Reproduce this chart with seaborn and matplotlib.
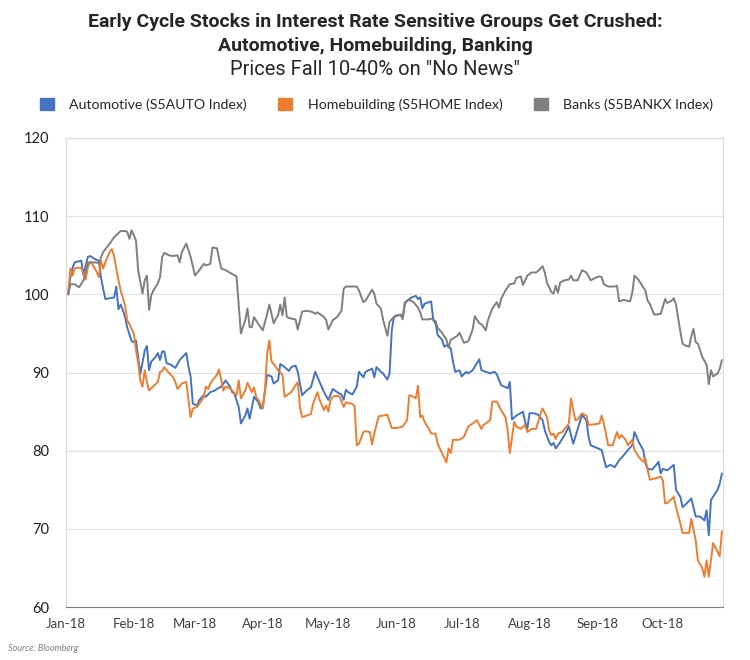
import pandas as pd
import seaborn as sns
import matplotlib.pyplot as plt
import matplotlib.dates as mdates
from matplotlib.patches import Patch

# days counted from 1 Jan 2018, values indexed to 100 at start
auto_day = [1, 2, 3, 4, 7, 8, 10, 11, 14, 15, 16, 17, 18, 22, 23, 24, 25, 26, 27, 28,
            30, 31, 32, 34, 36, 37, 38, 39, 41, 42, 43, 44, 45, 46, 48, 50, 52, 55, 56, 57,
            58, 60, 61, 63, 64, 66, 68, 69, 71, 73, 74, 75, 76, 77, 79, 80, 82, 83, 84, 86,
            88, 89, 90, 92, 94, 95, 96, 97, 98, 100, 102, 103, 105, 106, 108, 110, 112, 114, 116, 118,
            120, 122, 124, 126, 127, 128, 129, 131, 133, 134, 136, 137, 140, 141, 142, 144, 145, 147, 148, 149,
            150, 151, 153, 154, 155, 156, 158, 160, 161, 162, 163, 164, 167, 168, 169, 170, 172, 173, 174, 176,
            177, 178, 180, 181, 183, 184, 186, 189, 190, 194, 196, 197, 199, 202, 203, 204, 206, 209, 210, 211,
            212, 214, 216, 218, 219, 221, 222, 223, 224, 226, 228, 230, 232, 233, 236, 238, 239, 240, 245, 247,
            249, 251, 253, 255, 257, 259, 260, 262, 264, 265, 266, 268, 270, 271, 272, 273, 275, 278, 279, 281,
            282, 284, 286, 288, 290, 292, 293, 294, 295, 298, 299, 300]
auto_val = [100.0, 102.2, 103.4, 104.1, 104.3, 102.5, 104.8, 104.9, 104.4, 104.3, 102.2, 100.7, 99.4, 99.6, 101.0, 98.1, 98.7, 98.0, 97.1, 95.8,
            94.0, 93.9, 94.1, 89.8, 92.8, 93.4, 90.3, 91.4, 92.0, 92.5, 91.6, 92.7, 92.7, 91.2, 91.0, 90.6, 91.6, 92.5, 90.8, 89.5,
            86.0, 85.8, 86.5, 87.1, 86.9, 87.5, 87.7, 87.9, 88.2, 89.0, 88.6, 88.2, 87.5, 87.3, 85.6, 83.5, 84.5, 85.4, 84.1, 86.9,
            86.2, 85.4, 85.6, 89.7, 89.5, 88.6, 88.8, 89.0, 91.1, 90.7, 90.2, 90.7, 90.9, 90.1, 87.1, 87.7, 88.1, 90.1, 88.8, 87.5,
            86.5, 87.9, 87.5, 87.2, 86.5, 87.8, 87.5, 87.2, 88.2, 90.1, 89.4, 90.1, 90.5, 89.4, 90.7, 90.1, 89.9, 89.1, 89.9, 95.4,
            97.1, 97.3, 97.4, 97.1, 98.8, 99.2, 99.6, 99.8, 99.4, 99.6, 98.2, 98.8, 99.1, 96.7, 96.3, 94.8, 94.2, 93.3, 93.5, 93.1,
            91.4, 90.1, 90.3, 89.5, 90.1, 89.9, 90.3, 91.7, 90.3, 89.9, 90.1, 89.8, 88.4, 88.0, 88.8, 84.0, 84.5, 85.0, 83.7, 82.8,
            84.8, 84.8, 84.6, 83.9, 82.6, 81.1, 80.7, 81.0, 80.3, 81.1, 82.0, 83.1, 80.9, 81.8, 84.6, 83.9, 81.8, 80.7, 80.1, 77.9,
            78.2, 77.9, 78.8, 79.4, 80.1, 80.7, 82.4, 81.1, 80.1, 78.4, 77.7, 77.6, 78.2, 78.6, 77.1, 77.7, 77.5, 78.2, 75.0, 74.1,
            72.8, 73.3, 73.9, 71.6, 71.6, 71.1, 72.4, 69.2, 73.7, 75.0, 75.8, 77.1]

home_day = [1, 2, 3, 4, 5, 7, 9, 10, 11, 12, 14, 15, 16, 17, 18, 19, 20, 21, 22, 23,
            24, 25, 27, 28, 29, 31, 32, 33, 34, 35, 36, 37, 38, 42, 43, 44, 45, 46, 47, 49,
            50, 51, 53, 55, 56, 57, 58, 60, 61, 63, 64, 65, 66, 67, 69, 70, 72, 73, 75, 76,
            78, 79, 80, 82, 83, 85, 86, 87, 89, 90, 91, 92, 93, 94, 95, 96, 97, 99, 100, 102,
            103, 106, 107, 108, 112, 113, 115, 116, 118, 119, 120, 121, 122, 123, 125, 127, 128, 131, 132, 133,
            134, 136, 137, 139, 140, 141, 143, 145, 147, 149, 151, 154, 156, 157, 159, 160, 161, 162, 163, 164,
            166, 167, 169, 170, 172, 174, 175, 176, 177, 180, 182, 184, 188, 190, 191, 194, 195, 197, 199, 201,
            202, 203, 205, 206, 208, 210, 211, 213, 215, 217, 218, 220, 221, 222, 223, 224, 225, 227, 229, 230,
            231, 232, 233, 234, 236, 238, 239, 242, 244, 245, 246, 248, 250, 252, 253, 254, 256, 257, 259, 260,
            262, 264, 265, 267, 270, 272, 273, 274, 275, 278, 279, 281, 282, 285, 286, 288, 289, 291, 292, 293,
            294, 296, 298, 299, 300]
home_val = [100.0, 103.3, 102.4, 103.3, 103.4, 103.4, 101.9, 103.5, 104.1, 103.9, 102.9, 102.2, 104.3, 103.3, 104.1, 104.8, 105.4, 105.8, 104.9, 103.3,
            101.8, 100.5, 98.6, 96.7, 96.2, 95.0, 92.9, 91.2, 89.0, 88.2, 90.3, 88.8, 87.7, 88.8, 90.1, 90.2, 90.7, 90.3, 90.0, 89.4,
            88.8, 87.9, 88.6, 88.8, 86.5, 84.3, 85.4, 85.6, 86.0, 86.9, 88.2, 87.9, 88.6, 89.0, 89.7, 90.4, 87.7, 88.2, 88.0, 87.7,
            87.1, 89.0, 86.7, 87.7, 88.7, 87.5, 88.1, 86.9, 86.0, 85.4, 87.7, 92.4, 94.1, 91.4, 91.1, 90.7, 90.3, 89.7, 86.9, 87.3,
            87.5, 88.8, 85.6, 84.3, 84.7, 86.0, 87.5, 86.5, 85.2, 85.8, 85.0, 86.5, 86.9, 87.0, 87.0, 85.6, 86.2, 86.0, 85.7, 80.7,
            80.9, 82.4, 82.5, 82.4, 80.8, 82.2, 84.4, 84.5, 84.6, 82.9, 82.9, 83.1, 83.9, 87.1, 86.9, 86.7, 88.3, 84.3, 84.5, 83.7,
            82.8, 82.2, 82.2, 80.9, 79.7, 78.5, 80.3, 79.7, 81.4, 81.4, 81.8, 83.1, 83.9, 82.8, 83.3, 83.9, 86.3, 86.3, 85.2, 84.3,
            82.6, 79.7, 83.7, 83.1, 82.8, 83.3, 82.4, 82.8, 82.8, 84.7, 85.4, 84.3, 82.6, 82.0, 82.2, 81.5, 82.2, 82.4, 83.1, 83.5,
            86.7, 85.2, 83.9, 84.0, 84.8, 84.5, 83.3, 83.4, 83.5, 84.5, 83.5, 80.7, 80.7, 82.4, 81.6, 82.0, 81.4, 80.7, 81.4, 80.1,
            79.2, 78.6, 79.0, 76.3, 76.5, 76.7, 76.2, 73.3, 73.3, 74.1, 72.8, 70.7, 69.5, 69.5, 71.3, 68.6, 66.0, 65.0, 63.9, 66.0,
            63.9, 68.2, 67.1, 66.5, 69.7]

bank_day = [1, 2, 4, 6, 8, 10, 13, 15, 17, 20, 22, 25, 27, 28, 29, 30, 32, 33, 35, 36,
            37, 38, 39, 40, 42, 43, 44, 45, 47, 49, 51, 52, 53, 55, 57, 59, 61, 63, 64, 66,
            67, 69, 71, 73, 76, 78, 80, 82, 83, 84, 85, 86, 88, 90, 92, 93, 95, 96, 97, 98,
            99, 100, 101, 103, 105, 106, 108, 110, 112, 113, 114, 115, 118, 119, 120, 122, 124, 126, 127, 128,
            133, 134, 136, 137, 140, 141, 142, 144, 145, 147, 148, 150, 152, 153, 154, 155, 157, 159, 161, 162,
            163, 166, 167, 169, 170, 172, 174, 175, 176, 179, 180, 182, 184, 186, 187, 189, 190, 192, 193, 195,
            196, 197, 198, 199, 201, 203, 205, 206, 208, 209, 211, 213, 215, 216, 218, 219, 220, 222, 223, 224,
            225, 226, 228, 230, 231, 232, 234, 236, 238, 240, 242, 244, 245, 246, 248, 251, 252, 253, 255, 258,
            259, 260, 262, 264, 265, 266, 267, 269, 272, 273, 274, 275, 277, 278, 279, 281, 282, 283, 285, 286,
            287, 288, 289, 290, 291, 293, 294, 295, 296, 298, 299, 300]
bank_val = [100.0, 101.3, 101.3, 100.9, 101.8, 104.1, 104.1, 104.0, 105.4, 106.5, 107.3, 108.1, 108.1, 108.0, 107.1, 108.2, 106.9, 103.1, 100.1, 101.8,
            102.4, 98.0, 99.9, 100.5, 101.4, 102.2, 104.8, 105.3, 105.0, 104.9, 105.0, 104.1, 105.4, 106.5, 104.8, 102.4, 103.1, 103.9, 103.7, 103.9,
            106.0, 105.9, 103.3, 103.1, 102.6, 102.3, 95.0, 96.7, 98.2, 95.8, 95.8, 97.1, 96.2, 95.4, 97.5, 98.7, 96.3, 96.9, 97.3, 98.7,
            97.3, 99.6, 97.1, 96.9, 96.8, 95.5, 97.8, 97.9, 97.8, 97.7, 97.5, 97.7, 97.1, 96.7, 95.5, 96.7, 97.1, 97.9, 100.7, 101.0,
            101.0, 100.5, 99.0, 99.2, 100.6, 100.1, 98.8, 98.2, 96.8, 94.7, 96.5, 97.1, 97.3, 97.4, 96.8, 99.0, 99.3, 99.0, 98.3, 97.7,
            96.8, 96.8, 96.9, 96.6, 95.7, 95.1, 94.2, 93.2, 94.2, 94.7, 95.1, 93.8, 94.0, 95.5, 97.2, 96.3, 96.2, 95.4, 96.7, 98.2,
            98.6, 99.0, 98.3, 99.4, 100.5, 101.3, 101.4, 102.1, 102.3, 101.2, 102.4, 102.8, 102.8, 103.0, 103.6, 102.8, 101.5, 100.3, 100.1, 101.1,
            100.2, 101.5, 101.8, 101.9, 102.4, 101.8, 101.8, 103.1, 102.8, 101.8, 102.1, 102.3, 102.2, 101.3, 101.0, 101.0, 101.1, 99.1, 99.3, 99.1,
            100.2, 102.4, 101.8, 100.9, 100.5, 99.2, 98.8, 97.4, 97.5, 98.4, 99.4, 98.9, 99.2, 99.5, 98.7, 95.2, 93.7, 93.5, 93.3, 94.6,
            95.6, 93.9, 93.7, 92.9, 92.0, 91.0, 88.5, 90.3, 89.5, 89.9, 90.5, 91.6]

names = ['Automotive (S5AUTO Index)', 'Homebuilding (S5HOME Index)', 'Banks (S5BANKX Index)']
colors = ['#4472C4', '#ED7D31', '#7F7F7F']

sns.set_style('white')
plt.rcParams['font.family'] = ['Lato', 'DejaVu Sans']

start = pd.Timestamp('2018-01-01')
frames = []
for name, days, vals in zip(names, [auto_day, home_day, bank_day], [auto_val, home_val, bank_val]):
    frames.append(pd.DataFrame({'date': start + pd.to_timedelta(days, unit='D'),
                                'value': vals, 'series': name}))
df = pd.concat(frames, ignore_index=True)

fig = plt.figure(figsize=(7.5, 6.6), dpi=100)
ax = fig.add_axes([0.088, 0.080, 0.876, 0.711])
sns.lineplot(df, x='date', y='value', hue='series', hue_order=names,
             palette=dict(zip(names, colors)), estimator=None, sort=False,
             linewidth=1.4, legend=False, ax=ax)

ax.set_ylim(60, 120)
ax.set_yticks(range(60, 121, 10))
ax.set_xlim(start, start + pd.Timedelta(days=300.5))
ax.xaxis.set_major_locator(mdates.MonthLocator())
ax.xaxis.set_major_formatter(mdates.DateFormatter('%b-%y'))
ax.set_xlabel('')
ax.set_ylabel('')
ax.yaxis.grid(True, color='#e3e3e3', linewidth=0.9)
ax.set_axisbelow(True)
for side in ['left', 'right', 'top']:
    ax.spines[side].set_color('#dcdcdc')
ax.spines['bottom'].set_color('#7f7f7f')
ax.tick_params(axis='y', length=0, pad=12, labelsize=10.5, labelcolor='#1f1f1f')
ax.tick_params(axis='x', length=5, width=0.9, color='#7f7f7f', labelsize=9.5,
               labelcolor='#404040', pad=3)

title_font = ['Roboto', 'DejaVu Sans']
fig.text(0.5, 0.966, 'Early Cycle Stocks in Interest Rate Sensitive Groups Get Crushed:',
         ha='center', va='center', fontsize=14, fontweight='bold', family=title_font)
fig.text(0.5, 0.930, 'Automotive, Homebuilding, Banking',
         ha='center', va='center', fontsize=14, fontweight='bold', family=title_font)
fig.text(0.5, 0.894, 'Prices Fall 10-40% on "No News"',
         ha='center', va='center', fontsize=14.5, family=title_font)

handles = [Patch(facecolor=c, edgecolor=c) for c in colors]
fig.legend(handles, names, loc='center', bbox_to_anchor=(0.502, 0.842), ncol=3,
           frameon=False, fontsize=10.2, handlelength=1.0, handleheight=1.0,
           handletextpad=1.1, columnspacing=2.2, labelcolor='#262626')

fig.text(0.011, 0.018, 'Source: Bloomberg', fontsize=6.5, style='italic',
         color='#7f7f7f', va='center')

fig.savefig('out.png', dpi=100)
